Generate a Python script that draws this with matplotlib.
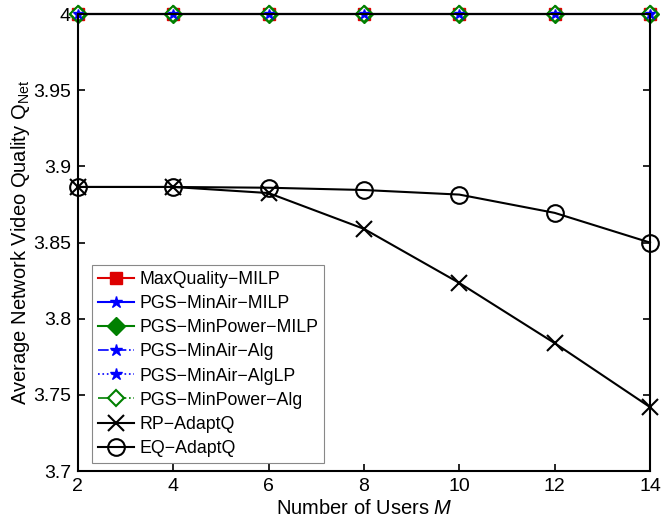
import matplotlib
matplotlib.use("Agg")
import matplotlib.pyplot as plt

plt.rcParams['font.family'] = ['Liberation Sans', 'DejaVu Sans']
plt.rcParams['mathtext.fontset'] = 'custom'
plt.rcParams['mathtext.it'] = 'Liberation Sans:italic'
plt.rcParams['mathtext.rm'] = 'Liberation Sans'

users = [2, 4, 6, 8, 10, 12, 14]
max_quality_milp = [4.0, 4.0, 4.0, 4.0, 4.0, 4.0, 4.0]
pgs_minair_milp = [4.0, 4.0, 4.0, 4.0, 4.0, 4.0, 4.0]
pgs_minpower_milp = [4.0, 4.0, 4.0, 4.0, 4.0, 4.0, 4.0]
pgs_minair_alg = [4.0, 4.0, 4.0, 4.0, 4.0, 4.0, 4.0]
pgs_minair_alglp = [4.0, 4.0, 4.0, 4.0, 4.0, 4.0, 4.0]
pgs_minpower_alg = [4.0, 4.0, 4.0, 4.0, 4.0, 4.0, 4.0]
rp_adaptq = [3.8865, 3.8865, 3.8825, 3.859, 3.8235, 3.784, 3.742]
eq_adaptq = [3.8865, 3.8865, 3.886, 3.8845, 3.8815, 3.8695, 3.850]

xticks = [2, 4, 6, 8, 10, 12, 14]
yticks = [3.7, 3.75, 3.8, 3.85, 3.9, 3.95, 4.0]
ytick_labels = ['3.7', '3.75', '3.8', '3.85', '3.9', '3.95', '4']

fig = plt.figure(figsize=(6.66, 5.2), dpi=100)
ax = fig.add_axes([0.117, 0.094, 0.859, 0.879])

ax.plot(users, max_quality_milp, color='#dd0000', marker='s', ms=8, lw=1.5,
        label='MaxQuality\u2212MILP', clip_on=False)
ax.plot(users, pgs_minair_milp, color='#0000ff', marker='*', ms=9, lw=1.5,
        label='PGS\u2212MinAir\u2212MILP', clip_on=False)
ax.plot(users, pgs_minpower_milp, color='#008000', marker='D', ms=9, lw=1.5,
        label='PGS\u2212MinPower\u2212MILP', clip_on=False)
ax.plot(users, pgs_minair_alg, color='#0000ff', marker='*', ms=9, lw=1.2,
        ls='-.', label='PGS\u2212MinAir\u2212Alg', clip_on=False)
ax.plot(users, pgs_minair_alglp, color='#0000ff', marker='*', ms=9, lw=1.2,
        ls=':', label='PGS\u2212MinAir\u2212AlgLP', clip_on=False)
ax.plot(users, pgs_minpower_alg, color='#008000', marker='D', ms=8, lw=1.2,
        ls='-.', mfc='white', mew=1.5, label='PGS\u2212MinPower\u2212Alg',
        clip_on=False)
ax.plot(users, rp_adaptq, color='black', marker='x', ms=11, mew=1.5, lw=1.5,
        label='RP\u2212AdaptQ', clip_on=False)
ax.plot(users, eq_adaptq, color='black', marker='o', ms=12, mfc='none',
        mew=1.5, lw=1.5, label='EQ\u2212AdaptQ', clip_on=False)

# blue stars of the dotted series drawn on top of the green diamonds
ax.plot(users, pgs_minair_alglp, color='#0000ff', marker='*', ms=7, ls='none',
        clip_on=False)

ax.set_xlim(2, 14)
ax.set_ylim(3.7, 4.0)
ax.set_xticks(xticks)
ax.set_yticks(yticks)
ax.set_yticklabels(ytick_labels)
ax.tick_params(direction='in', labelsize=14, length=5, width=1.2,
               top=True, right=True, pad=5)
for s in ax.spines.values():
    s.set_linewidth(1.5)

ax.set_xlabel('Number of Users $M$', fontsize=14.5, labelpad=3)
ax.set_ylabel('Average Network Video Quality Q$_{\\mathrm{Net}}$', fontsize=14.5,
              labelpad=1)

leg = ax.legend(loc='lower left', bbox_to_anchor=(0.0245, 0.0175), fontsize=12.8,
                handlelength=2.0, handletextpad=0.3, labelspacing=0.4,
                borderpad=0.35, borderaxespad=0, fancybox=False, framealpha=1,
                edgecolor='#888888')
leg.get_frame().set_linewidth(0.8)

fig.savefig('out.png', dpi=100)
